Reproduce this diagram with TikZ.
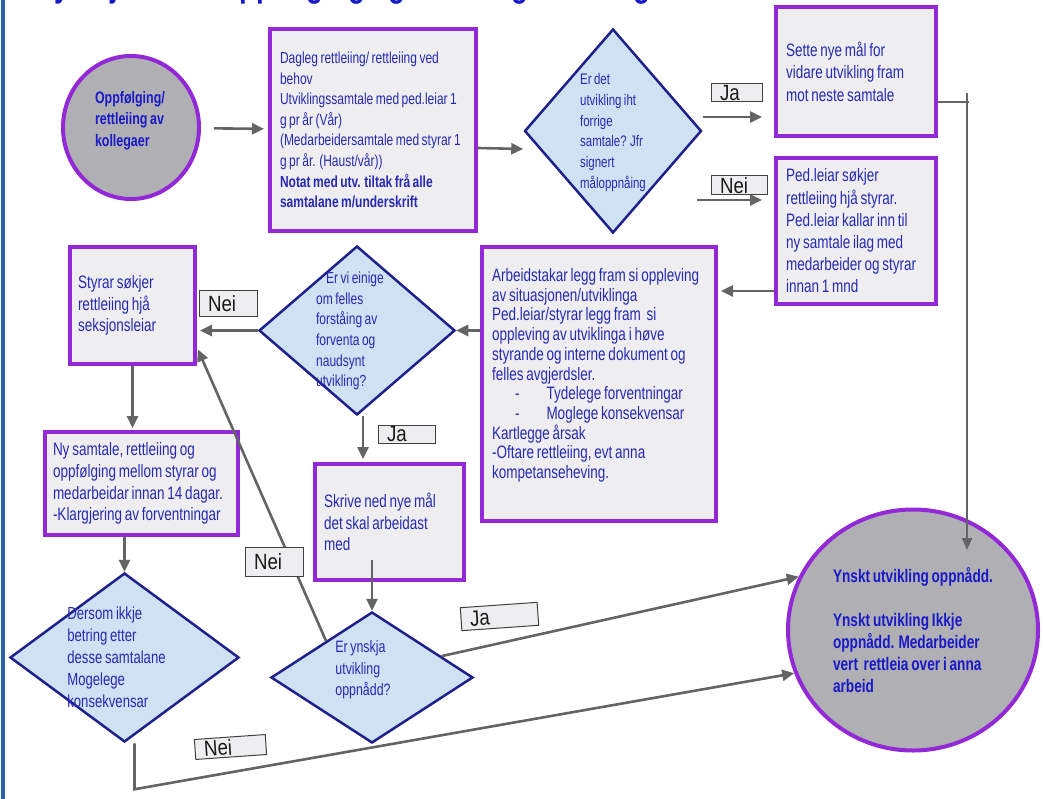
\documentclass[tikz,border=0pt]{standalone}
\usepackage{fontspec}
\setmainfont{Liberation Sans}[FakeStretch=0.75, WordSpace=0.75]
\newfontfamily\lblfont{Liberation Sans}[FakeStretch=0.85, WordSpace=0.85]
\usetikzlibrary{shapes.geometric, arrows.meta, calc}

\definecolor{boxline}{RGB}{146,40,214}
\definecolor{boxfill}{RGB}{238,238,240}
\definecolor{txtblue}{RGB}{40,40,178}
\definecolor{diafill}{RGB}{207,226,243}
\definecolor{dialine}{RGB}{32,32,140}
\definecolor{endfill}{RGB}{176,176,180}
\definecolor{arrgray}{RGB}{100,100,100}
\definecolor{frameblue}{RGB}{42,98,168}
\definecolor{titleblue}{RGB}{25,25,200}

\newcommand{\dtxt}[3]{\smash{\makebox[0pt]{\hspace*{#1}\raisebox{#2}{\begin{tabular}{@{}l@{}}#3\end{tabular}}}}}

\tikzset{
	box/.style={draw=boxline, line width=4pt, fill=boxfill, text=txtblue, align=flush left, inner ysep=0pt},
	choice/.style={diamond, draw=dialine, line width=2.5pt, fill=diafill, text=txtblue, inner sep=0pt},
	endpt/.style={ellipse, draw=boxline, line width=4pt, fill=endfill, text=titleblue, align=flush left, inner sep=0pt},
	lbl/.style={draw=black!75, line width=1pt, fill=boxfill, text=black!90, align=flush left, inner xsep=9pt, inner ysep=0pt, text height=15.8pt, text depth=0pt, font=\lblfont\fontsize{22}{24}\selectfont},
	arr/.style={draw=arrgray, line width=2.6pt, -{Triangle[length=12pt, width=11pt]}},
	rail/.style={draw=arrgray, line width=2pt},
}

\begin{document}
\begin{tikzpicture}[x=1pt, y=-1pt]
	\useasboundingbox (0,0) rectangle (1043,799);
	\clip (0,0) rectangle (1043,799);
	\node [anchor=base west, inner sep=0pt, text=titleblue, font=\bfseries\fontsize{37}{40}\selectfont] (title) at (30,-3.5) {Flytskjema for oppfølging og rettleiing av kollegaer};
	\draw [line width=4pt, frameblue] (3,0) -- (3,799);

	\node [endpt, minimum width=136pt, minimum height=143pt, text width=72pt, text depth=61pt, font=\bfseries\fontsize{16.6}{21.6}\selectfont] (A) at (131,127.5) {Oppfølging/\\rettleiing av\\kollegaer};
	\node [box, minimum width=206pt, minimum height=202pt, inner xsep=10pt, text width=186pt, font=\fontsize{16}{20.6}\selectfont] (B) at (373,130) {Dagleg rettleiing/ rettleiing ved\\behov\\Utviklingssamtale med ped.leiar 1\\g pr år (Vår)\\(Medarbeidersamtale med styrar 1\\g pr år. (Haust/vår))\\\textbf{Notat med utv. tiltak frå alle}\\\textbf{samtalane m/underskrift}};
	\node [choice, minimum width=177pt, minimum height=204pt, font=\fontsize{15.3}{20.7}\selectfont] (C) at (613,131) {\dtxt{0pt}{-5pt}{Er det\\utvikling iht\\forrige\\samtale? Jfr\\signert\\måloppnåing}};
	\node [box, minimum width=160pt, minimum height=129pt, inner xsep=10pt, text width=140pt, font=\fontsize{18}{22.5}\selectfont] (D) at (856,71.5) {Sette nye mål for\\vidare utvikling fram\\mot neste samtale};
	\node [box, minimum width=160pt, minimum height=146pt, inner xsep=10pt, text width=140pt, font=\fontsize{18}{22.2}\selectfont] (E) at (856,231) {Ped.leiar søkjer\\rettleiing hjå styrar.\\Ped.leiar kallar inn til\\ny samtale ilag med\\medarbeider og styrar\\innan 1 mnd};
	\node [box, minimum width=234pt, minimum height=274pt, inner xsep=10pt, text width=214pt, text depth=218pt, font=\fontsize{18}{19.7}\selectfont] (F) at (599,384) {Arbeidstakar legg fram si oppleving\\av situasjonen/utviklinga\\Ped.leiar/styrar legg fram\ \ si\\oppleving av utviklinga i høve\\styrande og interne dokument og\\felles avgjerdsler.\\\hspace*{23pt}-\hspace*{27pt}Tydelege forventningar\\\hspace*{23pt}-\hspace*{27pt}Moglege konsekvensar\\Kartlegge årsak\\-Oftare rettleiing, evt anna\\kompetanseheving.};
	\node [choice, minimum width=196pt, minimum height=169pt, font=\fontsize{16}{20.6}\selectfont] (G) at (357,330.5) {\dtxt{-14pt}{-5pt}{\hspace*{10pt}Er vi einige\\om felles\\forståing av\\forventa og\\naudsynt\\utvikling?}};
	\node [box, minimum width=125pt, minimum height=117pt, inner xsep=8pt, text width=109pt, font=\fontsize{18}{21.7}\selectfont] (H) at (132.5,305.5) {Styrar søkjer\\rettleiing hjå\\seksjonsleiar};
	\node [box, minimum width=193pt, minimum height=103pt, inner xsep=8pt, text width=177pt, font=\fontsize{18}{21.7}\selectfont] (I) at (141.5,483.5) {Ny samtale, rettleiing og\\oppfølging mellom styrar og\\medarbeidar innan 14 dagar.\\-Klargjering av forventningar};
	\node [choice, minimum width=229pt, minimum height=169pt, font=\fontsize{17.5}{22}\selectfont] (J) at (124.5,657.5) {\dtxt{-16pt}{-6pt}{Dersom ikkje\\betring etter\\desse samtalane\\Mogelege\\konsekvensar}};
	\node [box, minimum width=149pt, minimum height=116pt, inner xsep=9pt, text width=131pt, font=\fontsize{18}{21.5}\selectfont] (K) at (389.5,522) {Skrive ned nye mål\\det skal arbeidast\\med};
	\node [choice, minimum width=202pt, minimum height=131pt, font=\fontsize{16.5}{21.5}\selectfont] (L) at (372,677.5) {\dtxt{-18pt}{3pt}{Er ynskja\\utvikling\\oppnådd?}};
	\node [endpt, minimum width=250pt, minimum height=241pt, text width=160pt, font=\bfseries\fontsize{18.2}{22}\selectfont] (M) at (913,630) {Ynskt utvikling oppnådd.\\[22pt]Ynskt utvikling Ikkje\\oppnådd. Medarbeider\\vert\ \ rettleia over i anna\\arbeid};

	\coordinate (P) at (697,200);
	\coordinate (Q) at (967,93);
	\coordinate (R) at (967,550);

	\draw [arr, shorten <=13pt, shorten >=4pt] (A) -- (B);
	\draw [arr] ([yshift=-18pt]B.east) -- ([yshift=-18pt]C.west);
	\draw [arr, shorten >=12pt] ([yshift=14pt]C.east) -- ([yshift=14pt]C.east -| D.west);
	\draw [arr, shorten >=12pt] (P) -- (P -| E.west);
	\draw [rail] ([yshift=-30.5pt]D.east) -- ++(31,0);
	\draw [rail, -{Triangle[length=12pt, width=10pt]}] (Q) -- (R);
	\draw [arr, shorten >=3pt] ([yshift=-60pt]E.west) -- ([yshift=-60pt]E.west -| F.east);
	\draw [arr] (F.west |- G.east) -- (G.east);
	\draw [arr, shorten >=3pt] (G.west) -- (G.west -| H.east);
	\draw [arr, shorten >=2pt] (H.south) -- (H.south |- I.north);
	\draw [arr] (J.north |- I.south) -- (J.north);
	\draw [arr, shorten >=3pt] ([xshift=6pt]G.south) -- ([xshift=6pt]G.south |- K.north);
	\draw [arr] ([yshift=22pt]K.south -| L.north) -- (L.north);
	\draw [arr, shorten >=2pt] ($(L.north)!0.45!(L.west)$) -- ([yshift=-42pt]H.east);
	\draw [arr] ($(L.north)!0.68!(L.east)$) -- (M.155);
	\draw [arr] ([xshift=10pt]J.south) -- ++(0,46) -- (M.200);

	\node [lbl, text width=33pt, minimum height=18pt] (ja1) at (736.5,93) {Ja};
	\node [lbl, text width=38pt, minimum height=19pt] (nei1) at (739,185.5) {Nei};
	\node [lbl, text width=40pt, minimum height=25pt] (nei2) at (228,303.5) {Nei};
	\node [lbl, text width=39pt, minimum height=18pt] (ja2) at (406.5,434) {Ja};
	\node [lbl, text width=40pt, minimum height=29pt] (nei3) at (274,561.5) {Nei};
	\node [lbl, text width=59pt, minimum height=23pt, rotate=4] (ja3) at (499.5,616.5) {Ja};
	\node [lbl, text width=53pt, minimum height=20pt, rotate=4] (nei4) at (230.5,747) {Nei};
\end{tikzpicture}
\end{document}
